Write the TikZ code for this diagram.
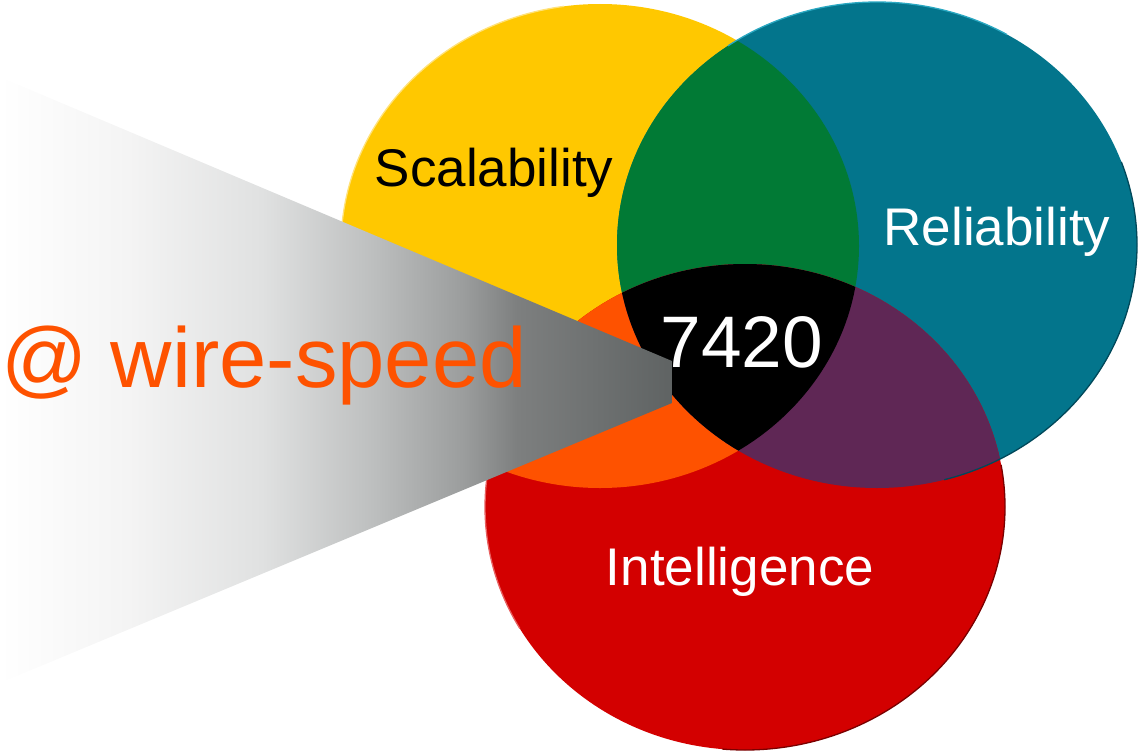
\documentclass[tikz,border=0pt]{standalone}
\usepackage{fontspec}
\setmainfont{Liberation Sans}
\definecolor{cyel}{HTML}{FFC800}
\definecolor{cyelrim}{HTML}{FFE27A}
\definecolor{cteal}{HTML}{03758C}
\definecolor{ctealrim}{HTML}{2AA8C2}
\definecolor{ctealdark}{HTML}{01485A}
\definecolor{cgreen}{HTML}{017A35}
\definecolor{cred}{HTML}{D30000}
\definecolor{credrim}{HTML}{E86060}
\definecolor{creddark}{HTML}{7A0000}
\definecolor{corange}{HTML}{FE5200}
\definecolor{cpurple}{HTML}{5F2755}
\definecolor{gA}{RGB}{244,244,244}
\definecolor{gB}{RGB}{224,225,225}
\definecolor{gC}{RGB}{190,192,192}
\definecolor{gD}{RGB}{155,157,157}
\definecolor{gE}{RGB}{125,127,127}
\definecolor{gF}{RGB}{95,99,99}
\pgfdeclarehorizontalshading{wireshade}{100bp}{color(0bp)=(white); color(25bp)=(white); color(34.5bp)=(gA); color(44.5bp)=(gB); color(52.5bp)=(gC); color(59.5bp)=(gD); color(63.5bp)=(gE); color(75bp)=(gF); color(100bp)=(gF)}
\tikzset{
  lbl/.style={inner sep=0pt, anchor=base, font=\fontsize{53}{53}\selectfont},
  rim/.style={line width=1.3pt}
}
\def\ellYel{(600,246) ellipse [x radius=259, y radius=242]}
\def\ellTeal{(877,245) ellipse [x radius=260, y radius=243]}
\def\ellRed{(745,507) ellipse [x radius=260, y radius=243]}
\begin{document}
\begin{tikzpicture}[x=1pt,y=-1pt]
\useasboundingbox (0,0) rectangle (1138,752);
% base circles
\fill[cyel] \ellYel;
\fill[cteal] \ellTeal;
\fill[cred] \ellRed;
% pairwise overlaps
\begin{scope}
  \clip \ellYel;
  \fill[cgreen] \ellTeal;
\end{scope}
\begin{scope}
  \clip \ellYel;
  \fill[corange] \ellRed;
\end{scope}
\begin{scope}
  \clip \ellTeal;
  \fill[cpurple] \ellRed;
\end{scope}
% triple overlap
\begin{scope}
  \clip \ellYel;
  \clip \ellTeal;
  \fill[black] \ellRed;
\end{scope}
% rims
\draw[rim, cyelrim] (600,246) ++(180:259 and 242) arc[start angle=180, end angle=262, x radius=259, y radius=242];
\draw[rim, ctealrim] (877,245) ++(235:260 and 243) arc[start angle=235, end angle=300, x radius=260, y radius=243];
\draw[rim, ctealdark] (877,245) ++(-20:260 and 243) arc[start angle=-20, end angle=75, x radius=260, y radius=243];
\draw[rim, credrim] (745,507) ++(150:260 and 243) arc[start angle=150, end angle=195, x radius=260, y radius=243];
\draw[rim, creddark] (745,507) ++(-10:260 and 243) arc[start angle=-10, end angle=95, x radius=260, y radius=243];
% grey beam
\shade[shading=wireshade] (0,77) -- (672,361) -- (672,403) -- (0,683) -- cycle;
% labels
\node[lbl, text=black] (scal) at (494,186) {Scalability};
\node[lbl, text=white] (reli) at (997,245) {Reliability};
\node[lbl, text=white] (intel) at (740,585) {Intelligence};
\node[lbl, text=white, font=\fontsize{73}{73}\selectfont] (num) at (742,367) {7420};
\node[lbl, text=corange, font=\fontsize{85}{85}\selectfont] (wire) at (264,387) {@ wire-speed};
\end{tikzpicture}
\end{document}
